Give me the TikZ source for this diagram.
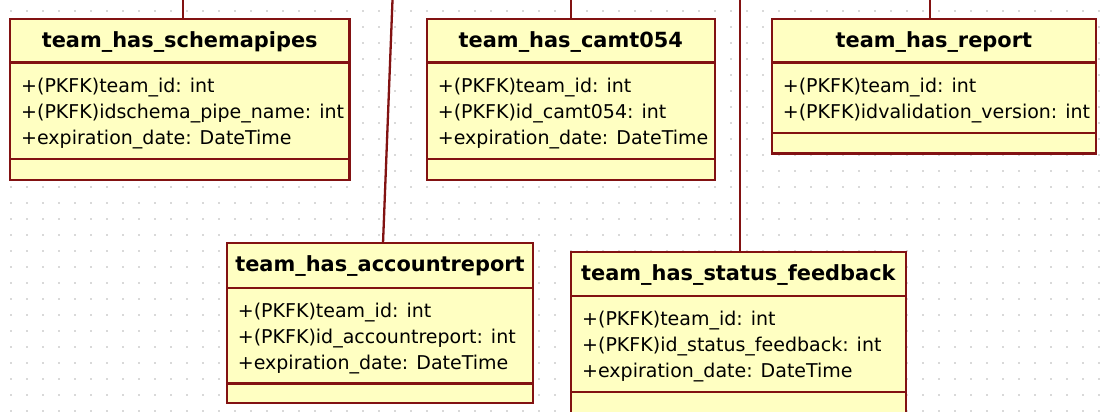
\documentclass[tikz,border=0pt]{standalone}
\usepackage{fontspec}
\setmainfont{DejaVu Sans}
\definecolor{umlborder}{RGB}{130,18,18}
\definecolor{umlfill}{RGB}{255,255,194}
\definecolor{griddot}{RGB}{180,180,180}

\tikzset{
  umlline/.style={draw=umlborder, line width=2.3pt},
  classbox/.style={umlline, fill=umlfill, rectangle, inner sep=0pt, outer sep=0pt},
  classtitle/.style={font=\fontsize{20.9}{24}\selectfont\bfseries, inner sep=0pt, anchor=base},
  attr/.style={font=\fontsize{19}{24}\selectfont, inner sep=0pt, anchor=base west},
}

% class box: name, left, top, right, bottom, header rule y, operations rule y
\newcommand\umlclass[7]{%
  \node[classbox, minimum width={(#4-#2)*1pt}, minimum height={(#5-#3)*1pt}] (#1)
    at ({(#2+#4)/2},{(#3+#5)/2}) {};
  \draw[umlline] (#1.west |- 0,#6) -- (#1.east |- 0,#6);
  \draw[umlline] (#1.west |- 0,#7) -- (#1.east |- 0,#7);
}

\begin{document}
\begin{tikzpicture}[x=1pt,y=-1pt]
\useasboundingbox (0,0) rectangle (1100,412);
\fill[white] (0,0) rectangle (1100,412);

% dotted drawing grid
\foreach \i in {0,...,68} {
  \foreach \j in {0,...,25} {
    \fill[griddot] (11+16*\i,11+16*\j) circle (0.9pt);
  }
}

% classes
\umlclass{schemapipes}{10}{19}{349.5}{180}{62.5}{159.3}
\umlclass{camt}{426.7}{19}{715}{180}{62.5}{159.3}
\umlclass{report}{771.7}{19}{1096}{153.5}{62.5}{133.3}
\umlclass{accountreport}{226.7}{243.3}{533.3}{403.3}{287.7}{383.5}
\umlclass{statusfeedback}{571}{251.7}{905.7}{414}{295.7}{391.7}

% associations leaving the top edge
\coordinate (up1) at (183,0);
\coordinate (up2) at (571,0);
\coordinate (up3) at (930,0);
\coordinate (up4) at (392.5,0);
\coordinate (up5) at (740,0);
\draw[umlline] (up1) -- (up1 |- schemapipes.north);
\draw[umlline] (up2) -- (up2 |- camt.north);
\draw[umlline] (up3) -- (up3 |- report.north);
\draw[umlline] (up4) -- (383,0 |- accountreport.north);
\draw[umlline] (up5) -- (up5 |- statusfeedback.north);

% team_has_schemapipes
\node[classtitle] (schemapipes-t) at (schemapipes.north |- 0,47.5) {team\_has\_schemapipes};
\node[attr] (schemapipes-a1) at (21,92.3) {+(PKFK)team\_id: int};
\node[attr] (schemapipes-a2) at (21,118.3) {+(PKFK)idschema\_pipe\_name: int};
\node[attr] (schemapipes-a3) at (21,144.3) {+expiration\_date: DateTime};

% team_has_camt054
\node[classtitle] (camt-t) at (camt.north |- 0,47.5) {team\_has\_camt054};
\node[attr] (camt-a1) at (437.7,92.3) {+(PKFK)team\_id: int};
\node[attr] (camt-a2) at (437.7,118.3) {+(PKFK)id\_camt054: int};
\node[attr] (camt-a3) at (437.7,144.3) {+expiration\_date: DateTime};

% team_has_report
\node[classtitle] (report-t) at (report.north |- 0,47.5) {team\_has\_report};
\node[attr] (report-a1) at (782.7,92.3) {+(PKFK)team\_id: int};
\node[attr] (report-a2) at (782.7,118.3) {+(PKFK)idvalidation\_version: int};

% team_has_accountreport
\node[classtitle] (accountreport-t) at (accountreport.north |- 0,271.8) {team\_has\_accountreport};
\node[attr] (accountreport-a1) at (237.7,317.5) {+(PKFK)team\_id: int};
\node[attr] (accountreport-a2) at (237.7,343.5) {+(PKFK)id\_accountreport: int};
\node[attr] (accountreport-a3) at (237.7,369.5) {+expiration\_date: DateTime};

% team_has_status_feedback
\node[classtitle] (statusfeedback-t) at (statusfeedback.north |- 0,280.2) {team\_has\_status\_feedback};
\node[attr] (statusfeedback-a1) at (582,325.5) {+(PKFK)team\_id: int};
\node[attr] (statusfeedback-a2) at (582,351.5) {+(PKFK)id\_status\_feedback: int};
\node[attr] (statusfeedback-a3) at (582,377.5) {+expiration\_date: DateTime};
\end{tikzpicture}
\end{document}
